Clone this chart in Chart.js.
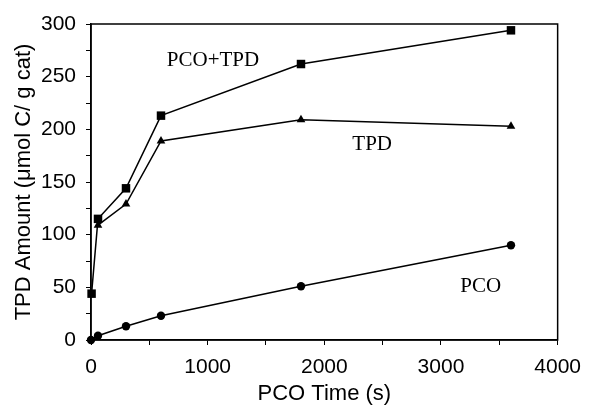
<!DOCTYPE html>
<html>
<head>
<meta charset="utf-8">
<script src="https://cdn.jsdelivr.net/npm/chart.js@4/dist/chart.umd.min.js"></script>
<style>
  html, body { margin: 0; padding: 0; background: #fff; }
  #wrap { width: 591px; height: 407px; }
</style>
</head>
<body>
<div id="wrap"><canvas id="tpdChart"></canvas></div>
<script>
/* DATOS */
const tiempoSum = [5, 60, 300, 600, 1800, 3600]
const valoresSum = [44, 115, 144, 213, 262, 294]

const tiempoTPD = [60, 300, 600, 1800, 3600]
const valoresTPD = [109, 129, 189, 209, 203]

const tiempoPCO = [0, 60, 300, 600, 1800, 3600]
const valoresPCO = [0, 4, 13, 23, 51, 90]

const nombresSeries = ["PCO+TPD", "TPD", "PCO"]

function armarPuntos(xs, ys) {
    let puntos = []
    for (let i = 0; i < xs.length; i++) {
        puntos.push({ x: xs[i], y: ys[i] })
    }
    return puntos
}

/* etiquetas dentro del grafico, en coordenadas de los datos */
const etiquetas = [
    { texto: nombresSeries[0], x: 1046, y: 265 },
    { texto: nombresSeries[1], x: 2410, y: 186 },
    { texto: nombresSeries[2], x: 3340, y: 51 }
]

const marcoYEtiquetas = {
    id: "marcoYEtiquetas",
    afterDraw(chart) {
        const ctx = chart.ctx
        const area = chart.chartArea
        const sx = chart.scales.x
        const sy = chart.scales.y
        ctx.save()
        ctx.strokeStyle = "#000"
        ctx.lineWidth = 1.5
        ctx.strokeRect(area.left, area.top, area.right - area.left, area.bottom - area.top)
        ctx.fillStyle = "#000"
        ctx.font = "21px 'Liberation Serif', 'Times New Roman', serif"
        ctx.textAlign = "center"
        ctx.textBaseline = "middle"
        etiquetas.forEach(e => {
            ctx.fillText(e.texto, sx.getPixelForValue(e.x), sy.getPixelForValue(e.y))
        })
        ctx.restore()
    }
}

const fuenteEjes = "'Liberation Sans', Arial, sans-serif"

const serie = (label, xs, ys, estilo, radio) => ({
    label: label,
    data: armarPuntos(xs, ys),
    borderColor: "#000",
    backgroundColor: "#000",
    borderWidth: 1.5,
    pointStyle: estilo,
    pointRadius: radio,
    pointBorderWidth: 0,
    tension: 0,
    fill: false,
    clip: false
})

new Chart(document.getElementById("tpdChart").getContext("2d"), {
    type: "scatter",
    data: {
        datasets: [
            serie(nombresSeries[0], tiempoSum, valoresSum, "rect", 6),
            serie(nombresSeries[1], tiempoTPD, valoresTPD, "triangle", 5),
            serie(nombresSeries[2], tiempoPCO, valoresPCO, "circle", 4.2)
        ]
    },
    options: {
        responsive: true,
        maintainAspectRatio: false,
        animation: false,
        showLine: true,
        layout: { padding: { left: 0, right: 23, top: 24, bottom: 0 } },
        plugins: {
            legend: { display: false },
            tooltip: { enabled: false }
        },
        scales: {
            x: {
                type: "linear",
                min: 0,
                max: 4000,
                afterFit: s => { s.height = 67 },
                border: { display: true, color: "#000", width: 1.5 },
                grid: { drawOnChartArea: false, color: "#000", tickLength: 5, tickWidth: 1 },
                ticks: {
                    stepSize: 500,
                    color: "#000",
                    padding: 10,
                    maxRotation: 0,
                    autoSkip: false,
                    font: { family: fuenteEjes, size: 21 },
                    callback: v => (v % 1000 === 0 ? v : "")
                },
                title: {
                    display: true,
                    text: "PCO Time (s)",
                    color: "#000",
                    padding: { top: 0, bottom: 0 },
                    font: { family: fuenteEjes, size: 22 }
                }
            },
            y: {
                type: "linear",
                min: 0,
                max: 300,
                afterFit: s => { s.width = 91 },
                border: { display: true, color: "#000", width: 1.5 },
                grid: { drawOnChartArea: false, color: "#000", tickLength: 5, tickWidth: 1 },
                ticks: {
                    stepSize: 25,
                    color: "#000",
                    padding: 10,
                    autoSkip: false,
                    font: { family: fuenteEjes, size: 21 },
                    callback: v => (v % 50 === 0 ? v : "")
                },
                title: {
                    display: true,
                    text: "TPD Amount (\u03bcmol C/ g cat)",
                    color: "#000",
                    padding: { top: 11, bottom: 0 },
                    font: { family: fuenteEjes, size: 22 }
                }
            }
        }
    },
    plugins: [marcoYEtiquetas]
})
</script>
</body>
</html>
